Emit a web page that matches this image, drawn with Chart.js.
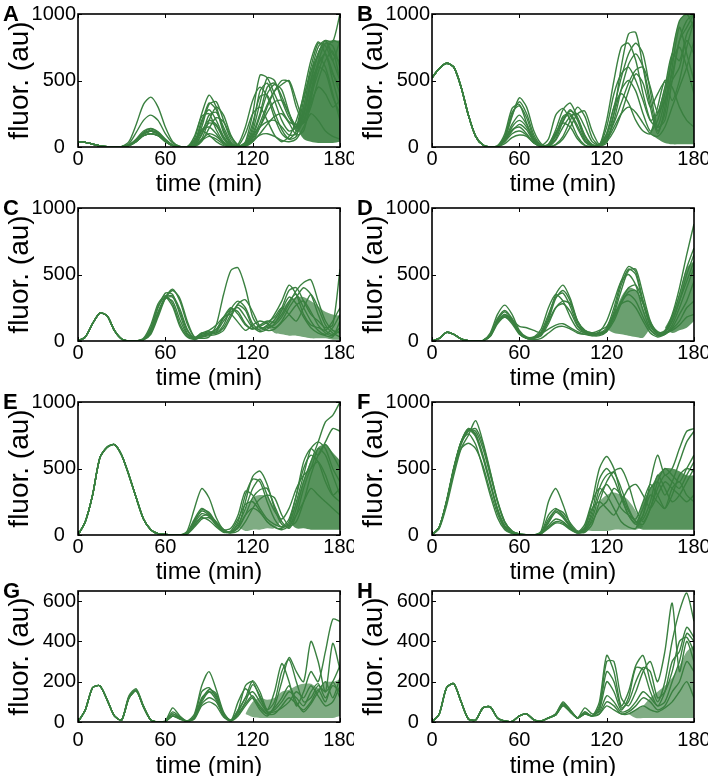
<!DOCTYPE html>
<html>
<head>
<meta charset="utf-8">
<script src="https://cdn.jsdelivr.net/npm/chart.js"></script>
<style>
  html, body { margin: 0; padding: 0; background: #fff; overflow: hidden; }
  #fig { position: relative; width: 708px; height: 776px; }
  canvas { position: absolute; }
  .tag { position: absolute; font: bold 22px 'Liberation Sans', Arial, sans-serif; line-height: 1; color: #000; }
</style>
</head>
<body>
<div id="fig"></div>
<script>
// time grid (min), every trace is sampled here
var times = [0,5,10,15,20,25,30,35,40,45,50,55,60,65,70,75,80,85,90,95,100,105,110,115,120,125,130,135,140,145,150,155,160,165,170,175,180];
var xTicks = [0, 60, 120, 180];
var yTicks1000 = [0, 500, 1000];
var yTicks650 = [0, 200, 400, 600];

// ---- panel A
var tracesA = [
  [40,35,22,8,2,0,5,40,170,320,375,300, 150,40,5,0,60,250,390,300,130,30,5,40, 250,540,520,400,280,190,170,260,500,700,800,790,1000],
  [40,35,22,8,2,0,3,25,110,200,240,200, 100,30,4,0,20,150,320,340,200,60,10,20, 120,330,520,500,350,220,150,200,420,640,780,760,600],
  [40,35,22,8,2,0,2,15,60,120,140,115, 60,15,2,0,5,60,200,300,240,90,15,5, 40,150,300,420,500,490,300,180,300,500,650,720,500],
  [40,35,22,8,2,0,2,12,50,100,120,100, 50,12,2,0,80,230,250,130,40,8,0,10, 80,230,400,470,430,260,120,230,470,620,700,500,300],
  [40,35,22,8,2,0,2,10,40,85,100,85, 40,10,2,0,20,120,200,170,70,15,2,30, 180,380,390,260,130,60,80,300,560,680,600,400,200],
  [40,35,22,8,2,0,2,12,50,100,120,100, 50,12,2,0,10,60,100,80,30,5,0,10, 50,90,100,80,50,40,60,150,250,200,120,80,60],
  [40,35,22,8,2,0,2,14,55,110,135,110, 55,14,2,0,40,130,150,100,30,5,10,100, 250,300,200,90,40,80,200,380,560,750,800,700,640],
  [40,35,22,8,2,0,2,10,40,85,100,85, 40,10,2,0,25,180,330,280,110,25,5,10, 40,100,170,230,250,180,90,120,350,600,560,380,250],
  [40,35,22,8,2,0,2,12,50,100,120,100, 50,12,2,0,10,50,80,60,20,5,5,30, 90,150,190,200,150,90,100,200,330,450,400,300,350],
  [40,35,22,8,2,0,2,10,40,85,100,85, 40,10,2,0,3,40,140,220,190,80,15,10, 60,150,260,340,350,250,140,250,500,700,800,650,500],
  [40,35,22,8,2,0,2,12,50,100,120,100, 50,12,2,0,50,120,90,40,10,2,20,150, 350,450,380,220,100,60,120,350,600,780,760,650,800],
  [40,35,22,8,2,0,2,12,50,100,120,100, 50,12,2,0,10,100,180,160,60,10,5,20, 70,180,320,420,470,500,350,200,400,620,700,560,400],
  [40,35,22,8,2,0,2,12,50,100,120,100, 50,12,2,0,30,200,280,200,80,15,3,20, 150,420,480,350,200,120,150,400,650,790,700,550,450],
  [40,35,22,8,2,0,2,12,50,100,120,100, 50,12,2,0,15,90,240,260,150,40,8,15, 100,250,450,480,380,250,160,180,380,560,720,800,780]
];
var bandTimesA = [150,155,160,165,170,175,180];
var bandTopA = [150,330,550,720,790,800,800];
var bandBotA = [150,60,40,30,30,30,40];

// ---- panel B
var tracesB = [
  [520,590,630,600,450,240,80,15,0,5,60,230, 370,300,120,25,5,20,80,200,300,230,70,10, 30,250,600,850,860,600,300,100,300,700,950,1000,900],
  [520,590,630,600,450,240,80,15,0,10,100,290, 320,180,50,10,60,240,290,200,80,15,5,20, 100,300,520,700,780,700,420,150,200,500,800,950,1000],
  [520,590,630,600,450,240,80,15,0,8,80,260, 310,220,70,10,20,130,280,330,220,80,15,10, 60,200,430,620,700,600,350,120,250,600,900,700,500],
  [520,590,630,600,450,240,80,15,0,5,50,130, 150,100,30,5,5,50,150,230,250,150,40,15, 80,250,430,500,420,250,120,200,400,650,750,600,400],
  [520,590,630,600,450,240,80,15,0,4,40,100, 120,90,30,5,20,110,180,150,60,10,5,20, 70,180,330,480,580,600,450,260,350,500,600,800,700],
  [520,590,630,600,450,240,80,15,0,3,25,70, 90,80,30,5,2,15,60,150,250,270,120,20, 100,300,400,330,200,120,100,300,500,450,300,200,150],
  [520,590,630,600,450,240,80,15,0,6,70,240, 340,250,90,15,8,60,190,270,220,90,20,10, 40,120,250,420,550,480,300,400,490,350,500,750,950],
  [520,590,630,600,450,240,80,15,0,5,55,170, 240,170,60,10,15,100,220,240,140,40,8,10, 50,150,250,300,260,180,100,80,150,300,450,600,800],
  [520,590,630,600,450,240,80,15,0,5,50,150, 200,150,50,10,10,80,200,280,200,60,10,10, 200,500,750,780,650,400,200,150,350,550,800,900,1000],
  [520,590,630,600,450,240,80,15,0,5,45,120, 170,130,40,5,10,90,230,250,160,50,10,15, 150,400,550,600,500,350,200,250,450,700,650,850,950]
];
var bandTimesB = [150,155,160,165,170,175,180];
var bandTopB = [100,260,460,720,950,1000,1000];
var bandBotB = [100,60,30,20,20,20,20];

// ---- panel C
var tracesC = [
  [0,30,130,210,190,80,15,0,0,10,60,200, 330,390,300,130,30,20,30,120,350,530,550,400, 180,100,110,160,250,380,400,300,200,150,100,120,540],
  [0,30,130,210,190,80,15,0,0,20,120,280, 340,280,130,40,10,30,50,60,120,240,300,250, 130,80,100,120,180,280,380,440,460,300,150,80,60],
  [0,30,130,210,190,80,15,0,0,15,90,250, 360,350,200,60,15,40,60,90,180,250,200,120, 90,120,150,140,200,300,350,250,150,80,50,100,200],
  [0,30,130,210,190,80,15,0,0,12,80,220, 320,300,160,50,20,50,70,60,100,200,270,230, 110,70,90,130,230,330,280,180,100,60,40,30,150],
  [0,30,130,210,190,80,15,0,0,8,50,180, 320,380,320,150,30,60,80,120,180,200,140,80, 120,150,130,100,150,250,330,400,350,200,80,50,100],
  [0,30,130,210,190,80,15,0,0,14,100,260, 330,260,110,30,15,30,40,50,80,180,280,310, 220,110,80,90,140,200,270,300,220,120,60,40,80],
  [0,30,130,210,190,80,15,0,0,10,70,210, 330,340,240,90,20,60,50,80,170,240,220,130, 90,110,140,180,250,200,150,250,350,250,120,60,30],
  [0,30,130,210,190,80,15,0,0,10,65,200, 320,330,220,80,20,40,60,70,150,220,250,180, 100,90,120,200,300,420,350,200,120,100,80,150,250]
];
var bandTimesC = [130,135,140,145,150,155,160,165,170,175,180];
var bandTopC = [110,170,240,300,330,330,300,260,220,200,190];
var bandBotC = [110,60,50,40,40,30,20,20,20,10,10];

// ---- panel D
var tracesD = [
  [0,20,65,50,15,2,0,5,60,200,270,200, 80,30,30,60,180,350,420,320,150,80,60,60, 100,250,450,560,520,300,120,60,80,200,400,650,880],
  [0,20,65,50,15,2,0,4,50,170,230,170, 70,25,25,50,160,320,380,300,140,70,50,50, 90,220,420,540,500,280,110,50,70,180,350,550,700],
  [0,20,65,50,15,2,0,3,40,150,200,150, 60,20,30,90,250,350,300,180,90,60,50,70, 150,300,450,500,420,230,90,40,60,150,300,450,600],
  [0,20,65,50,15,2,0,3,35,130,180,140, 55,20,20,40,130,250,300,280,150,80,60,60, 80,170,300,400,420,300,130,50,50,120,250,400,550],
  [0,20,65,50,15,2,0,3,40,150,200,160, 110,100,80,60,90,120,130,100,70,50,40,50, 80,180,300,350,300,180,80,40,60,100,200,300,450],
  [0,20,65,50,15,2,0,3,35,140,180,130, 50,20,10,20,60,100,110,90,60,50,60,80, 110,200,280,300,250,150,60,30,50,90,150,250,300],
  [0,20,65,50,15,2,0,3,40,140,190,150, 60,20,20,50,150,250,280,220,110,60,40,40, 70,150,280,370,380,280,140,70,60,80,120,180,200],
  [0,20,65,50,15,2,0,4,45,160,220,160, 65,22,25,70,200,330,360,260,120,70,50,50, 70,200,380,530,540,350,150,60,70,150,300,500,650]
];
var bandTimesD1 = [120,125,130,135,140,145,150];
var bandTopD1 = [90,200,330,400,380,250,100];
var bandBotD1 = [90,60,50,40,30,25,100];
var bandTimesD2 = [160,165,170,175,180];
var bandTopD2 = [100,200,350,550,600];
var bandBotD2 = [100,60,80,100,150];

// ---- panel E
var tracesE = [
  [0,100,300,580,660,680,600,450,280,120,40,10, 5,2,0,30,200,350,280,130,40,20,60,250, 440,480,380,200,80,60,200,400,550,700,850,900,1000],
  [0,100,300,580,660,680,600,450,280,120,40,10, 5,2,0,20,120,200,160,90,40,20,100,300, 420,400,250,120,60,80,250,450,650,700,650,500,400],
  [0,100,300,580,660,680,600,450,280,120,40,10, 5,2,0,15,110,180,150,80,30,20,50,150, 280,340,350,220,100,50,150,350,500,550,450,300,250],
  [0,100,300,580,660,680,600,450,280,120,40,10, 5,2,0,12,90,160,140,70,25,15,30,100, 200,270,300,280,150,70,100,250,450,600,680,600,500],
  [0,100,300,580,660,680,600,450,280,120,40,10, 5,2,0,10,80,130,110,60,20,30,120,230, 250,180,100,60,50,100,300,550,650,600,700,800,780],
  [0,100,300,580,660,680,600,450,280,120,40,10, 5,2,0,10,70,140,150,100,40,20,60,150, 200,170,100,60,40,70,150,250,350,300,250,200,150],
  [0,100,300,580,660,680,600,450,280,120,40,10, 5,2,0,8,60,120,130,90,40,50,150,330, 300,200,120,80,60,120,300,500,600,550,400,300,350],
  [0,100,300,580,660,680,600,450,280,120,40,10, 5,2,0,12,100,190,170,90,30,25,80,200, 350,420,300,180,120,200,350,450,500,650,600,450,300]
];
var bandTimesE1 = [110,115,120,125,130,135,140];
var bandTopE1 = [60,200,280,300,290,200,110];
var bandBotE1 = [60,30,40,40,50,50,110];
var bandTimesE2 = [145,150,155,160,165,170,175,180];
var bandTopE2 = [100,250,420,560,660,680,620,560];
var bandBotE2 = [100,50,50,40,40,40,40,40];

// ---- panel F
var tracesF = [
  [0,60,250,500,700,800,760,600,400,200,70,20, 5,2,0,30,250,350,230,80,20,60,250,500, 590,500,300,150,80,150,400,600,450,500,650,780,800],
  [0,60,250,500,700,790,780,650,450,250,100,30, 8,2,0,20,150,200,150,70,20,20,80,250, 400,480,500,380,200,100,200,400,500,450,400,500,600],
  [0,50,220,450,650,750,860,700,480,250,90,25, 8,2,0,15,100,190,170,90,30,40,150,350, 450,470,350,200,100,80,200,350,450,400,350,450,550],
  [0,60,260,510,700,760,680,500,300,130,40,10, 3,1,0,15,90,170,130,60,20,30,120,300, 380,300,200,150,120,250,380,300,200,300,450,500,480],
  [0,60,250,490,650,690,650,520,330,160,50,15, 5,2,0,12,70,120,100,50,15,50,200,250, 200,150,250,350,380,300,200,300,400,350,300,250,300],
  [0,60,250,500,700,790,740,580,380,190,60,15, 5,2,0,10,60,100,90,50,20,80,250,350, 300,200,100,60,50,150,300,250,200,350,400,300,250],
  [0,60,250,500,700,800,750,590,390,190,60,15, 5,2,0,10,50,90,80,40,15,30,100,200, 250,350,300,180,100,120,250,450,350,250,300,400,500],
  [0,55,240,480,680,780,800,680,470,260,100,30, 8,2,0,15,120,180,140,60,20,40,180,420, 500,420,280,150,90,200,350,400,300,400,550,700,780]
];
var bandTimesF1 = [105,110,115,120,125,130,135,140,145];
var bandTopF1 = [40,150,250,300,320,300,260,180,60];
var bandBotF1 = [40,30,30,30,40,40,40,40,60];
var bandTimesF2 = [140,145,150,155,160,165,170,175,180];
var bandTopF2 = [60,250,350,450,500,500,480,450,450];
var bandBotF2 = [60,40,40,40,40,40,40,40,40];

// ---- panel G
var tracesG = [
  [0,60,170,180,110,30,10,130,165,80,10,0, 5,70,30,5,40,180,250,160,50,5,60,180, 200,120,60,150,290,200,80,150,250,200,350,510,500],
  [0,60,170,180,110,30,10,120,155,75,10,0, 4,50,25,4,30,150,170,120,40,5,100,165, 120,60,30,80,200,320,250,200,400,300,150,390,260],
  [0,60,170,180,110,30,10,125,160,78,10,0, 3,30,20,3,25,120,150,110,40,8,60,120, 205,150,60,100,250,310,200,100,120,180,150,200,280],
  [0,60,170,180,110,30,10,120,155,75,10,0, 3,40,20,3,20,90,120,100,30,5,40,100, 185,130,50,60,100,150,120,80,150,190,120,180,150],
  [0,60,170,180,110,30,10,120,155,75,10,0, 2,30,15,3,15,80,100,80,25,5,30,80, 120,80,40,40,80,120,90,60,100,160,100,200,120],
  [0,60,170,180,110,30,10,120,155,75,10,0, 3,30,15,3,20,100,150,130,40,10,50,120, 150,100,50,50,70,100,150,120,180,130,80,100,180],
  [0,60,170,180,110,30,10,120,155,75,10,0, 3,40,20,3,25,110,160,140,40,8,40,90, 130,70,40,70,120,180,100,50,90,150,200,120,220]
];
var bandTimesG = [115,120,125,130,135,140,145,150,155,160,165,170,175,180];
var bandTopG = [40,100,120,110,120,150,160,180,190,190,170,200,200,210];
var bandBotG = [40,25,20,20,20,20,20,20,20,20,20,20,20,30];

// ---- panel H
var tracesH = [
  [0,40,170,190,100,15,10,70,75,20,5,3, 30,40,10,5,20,40,95,60,20,50,30,100, 330,250,80,150,280,330,200,100,200,400,550,640,500],
  [0,40,170,190,100,15,10,70,75,20,5,3, 30,40,10,5,20,40,100,60,20,40,30,80, 300,300,120,80,150,250,300,200,350,590,250,400,300],
  [0,40,170,190,100,15,10,70,75,20,5,3, 30,40,10,5,20,40,90,55,20,50,30,60, 200,150,60,120,270,260,150,80,150,300,350,470,420],
  [0,40,170,190,100,15,10,70,75,20,5,3, 30,40,10,5,20,35,85,50,20,70,40,50, 130,100,50,60,100,150,120,80,100,200,300,440,400],
  [0,40,170,190,100,15,10,70,75,20,5,3, 30,40,10,5,20,35,80,50,20,40,30,40, 100,80,40,50,80,120,100,60,80,150,200,300,250],
  [0,40,170,190,100,15,10,70,75,20,5,3, 30,40,10,5,20,35,80,50,20,40,30,40, 80,60,40,40,60,80,60,50,70,100,150,200,120],
  [0,40,170,190,100,15,10,70,75,20,5,3, 30,40,10,5,20,35,85,55,20,45,30,70, 250,200,70,100,200,270,250,120,150,250,400,420,350]
];
var bandTimesH = [135,140,145,150,155,160,165,170,175,180];
var bandTopH = [40,60,80,120,150,180,220,280,350,380];
var bandBotH = [40,20,20,20,20,20,20,20,20,20];

var green = 'rgb(58,128,64)';
var fontFamily = "'Liberation Sans', Arial, Helvetica, sans-serif";

var panels = [
  {tag: 'A', traces: tracesA, bands: [[bandTimesA, bandTopA, bandBotA, 0.9]], yMax: 1000, yTicks: yTicks1000, x: 0, y: 0, row: 0},
  {tag: 'B', traces: tracesB, bands: [[bandTimesB, bandTopB, bandBotB, 0.85]], yMax: 1000, yTicks: yTicks1000, x: 354, y: 0, row: 0},
  {tag: 'C', traces: tracesC, bands: [[bandTimesC, bandTopC, bandBotC, 0.7]], yMax: 1000, yTicks: yTicks1000, x: 0, y: 194, row: 1},
  {tag: 'D', traces: tracesD, bands: [[bandTimesD1, bandTopD1, bandBotD1, 0.75], [bandTimesD2, bandTopD2, bandBotD2, 0.8]], yMax: 1000, yTicks: yTicks1000, x: 354, y: 194, row: 1},
  {tag: 'E', traces: tracesE, bands: [[bandTimesE1, bandTopE1, bandBotE1, 0.65], [bandTimesE2, bandTopE2, bandBotE2, 0.85]], yMax: 1000, yTicks: yTicks1000, x: 0, y: 388, row: 2},
  {tag: 'F', traces: tracesF, bands: [[bandTimesF1, bandTopF1, bandBotF1, 0.65], [bandTimesF2, bandTopF2, bandBotF2, 0.85]], yMax: 1000, yTicks: yTicks1000, x: 354, y: 388, row: 2},
  {tag: 'G', traces: tracesG, bands: [[bandTimesG, bandTopG, bandBotG, 0.65]], yMax: 650, yTicks: yTicks650, x: 0, y: 582, row: 3},
  {tag: 'H', traces: tracesH, bands: [[bandTimesH, bandTopH, bandBotH, 0.65]], yMax: 650, yTicks: yTicks650, x: 354, y: 582, row: 3}
];

// box round the plot with small inward ticks, like the original
var framePlugin = {
  id: 'frame',
  afterDatasetsDraw: function (chart) {
    var ctx = chart.ctx, a = chart.chartArea, sx = chart.scales.x, sy = chart.scales.y;
    ctx.save();
    ctx.strokeStyle = '#000';
    ctx.lineWidth = 1;
    ctx.beginPath();
    sx.ticks.forEach(function (t) {
      var px = Math.round(sx.getPixelForValue(t.value)) + 0.5;
      ctx.moveTo(px, a.bottom); ctx.lineTo(px, a.bottom - 4);
      ctx.moveTo(px, a.top); ctx.lineTo(px, a.top + 4);
    });
    sy.ticks.forEach(function (t) {
      var py = Math.round(sy.getPixelForValue(t.value)) + 0.5;
      ctx.moveTo(a.left, py); ctx.lineTo(a.left + 4, py);
      ctx.moveTo(a.right, py); ctx.lineTo(a.right - 4, py);
    });
    ctx.stroke();
    ctx.lineWidth = 1.6;
    ctx.strokeRect(a.left, a.top, a.right - a.left, a.bottom - a.top);
    ctx.restore();
  }
};

function toPoints(xs, ys) {
  var pts = [];
  for (var i = 0; i < ys.length && i < xs.length; i++) pts.push({x: xs[i], y: ys[i]});
  return pts;
}

var fig = document.getElementById('fig');

panels.forEach(function (p) {
  var lastRow = p.row === 3;
  var canvas = document.createElement('canvas');
  canvas.width = 354;
  canvas.height = 200;
  canvas.style.left = p.x + 'px';
  canvas.style.top = p.y + 'px';
  fig.appendChild(canvas);

  var tag = document.createElement('div');
  tag.className = 'tag';
  tag.textContent = p.tag;
  tag.style.left = (p.x + 3) + 'px';
  tag.style.top = (lastRow ? p.y - 2 : p.y + 3) + 'px';
  fig.appendChild(tag);

  var datasets = [];
  p.bands.forEach(function (b) {
    var fillCol = 'rgba(58,128,64,' + b[3] + ')';
    datasets.push({data: toPoints(b[0], b[1]), borderWidth: 0, pointRadius: 0, tension: 0.3, fill: '+1', backgroundColor: fillCol});
    datasets.push({data: toPoints(b[0], b[2]), borderWidth: 0, pointRadius: 0, tension: 0.3, fill: false});
  });
  p.traces.forEach(function (tr) {
    datasets.push({data: toPoints(times, tr), borderColor: green, borderWidth: 1.4, pointRadius: 0, tension: 0.25, fill: false});
  });

  new Chart(canvas.getContext('2d'), {
    type: 'line',
    data: {datasets: datasets},
    plugins: [framePlugin],
    options: {
      responsive: false,
      animation: false,
      devicePixelRatio: 1,
      layout: {padding: {left: 0, right: 14, top: lastRow ? 9 : 14, bottom: 0}},
      plugins: {legend: {display: false}, tooltip: {enabled: false}},
      scales: {
        x: {
          type: 'linear', min: 0, max: 180,
          grid: {display: false, drawTicks: false},
          border: {display: false},
          afterBuildTicks: function (s) { s.ticks = xTicks.map(function (v) { return {value: v}; }); },
          afterFit: function (s) { s.height = lastRow ? 60 : 53; s.paddingLeft = 0; s.paddingRight = 0; },
          ticks: {color: '#000', padding: lastRow ? 8 : 2, maxRotation: 0, font: {family: fontFamily, size: 20, lineHeight: 1}},
          title: {display: true, text: 'time (min)', color: '#000', padding: {top: 0, bottom: 4}, font: {family: fontFamily, size: 24, lineHeight: 1}}
        },
        y: {
          type: 'linear', min: 0, max: p.yMax,
          grid: {display: false, drawTicks: false},
          border: {display: false},
          afterBuildTicks: function (s) { s.ticks = p.yTicks.map(function (v) { return {value: v}; }); },
          afterFit: function (s) { s.width = 78; s.paddingTop = 0; s.paddingBottom = 0; },
          ticks: {color: '#000', padding: 2, font: {family: fontFamily, size: 20, lineHeight: 1},
                  callback: function (v) { return v === 0 ? '0  ' : String(v); }},
          title: {display: true, text: 'fluor. (au)', color: '#000', padding: {top: 6, bottom: 0}, font: {family: fontFamily, size: 28, lineHeight: 1}}
        }
      }
    }
  });
});
</script>
</body>
</html>
